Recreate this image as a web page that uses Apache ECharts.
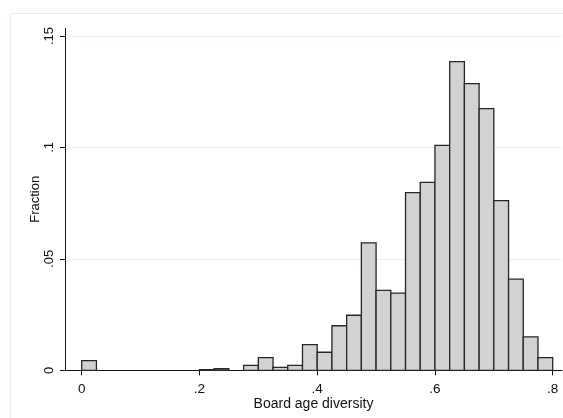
<!DOCTYPE html>
<html>
<head>
<meta charset="utf-8">
<script src="https://cdn.jsdelivr.net/npm/echarts@6/dist/echarts.min.js"></script>
<style>
html,body{margin:0;padding:0;background:#fff;}
#chart{width:563px;height:418px;}
</style>
</head>
<body>
<div id="chart"></div>
<script>
// Histogram bins (start of each bin) and fractions
const binStarts = [0, 0.2, 0.225, 0.275, 0.3, 0.325, 0.35, 0.375, 0.4, 0.425, 0.45, 0.475, 0.5, 0.525, 0.55, 0.575, 0.6, 0.625, 0.65, 0.675, 0.7, 0.725, 0.75, 0.775];
const fractions = [0.0043, 0.0003, 0.0007, 0.0022, 0.0057, 0.0013, 0.0022, 0.0115, 0.0081, 0.0200, 0.0247, 0.0572, 0.0359, 0.0346, 0.0797, 0.0843, 0.1009, 0.1385, 0.1286, 0.1174, 0.0761, 0.0409, 0.0150, 0.0057];
const binWidth = 0.025;
const xTicks = [0, 0.2, 0.4, 0.6, 0.8];
const yTicks = [0, 0.05, 0.1, 0.15];
const xTitle = 'Board age diversity';
const yTitle = 'Fraction';

const data = binStarts.map((s, i) => [s, s + binWidth, fractions[i]]);
const fmt = v => (v === 0 ? '0' : String(+v.toFixed(3)).replace(/^0/, ''));
const FONT = 'Liberation Sans, Arial, sans-serif';

const chart = echarts.init(document.getElementById('chart'), null, {renderer: 'canvas'});
chart.setOption({
  animation: false,
  backgroundColor: '#fff',
  graphic: [{
    type: 'rect', silent: true, z: -10,
    shape: {x: 10.5, y: 13.5, width: 560, height: 410},
    style: {fill: 'none', stroke: '#e6eef0', lineWidth: 1}
  }],
  grid: {left: 65, right: 1, top: 28.3, bottom: 47.7, containLabel: false},
  xAxis: {
    type: 'value', min: -0.0284, max: 0.8158,
    name: xTitle, nameLocation: 'middle', nameGap: 27, nameMoveOverlap: false,
    nameTextStyle: {fontFamily: FONT, fontSize: 14, color: '#111'},
    axisLine: {show: true, onZero: false, lineStyle: {color: '#111', width: 1}},
    axisTick: {show: true, customValues: xTicks, length: 5, inside: false, lineStyle: {color: '#111'}},
    axisLabel: {customValues: xTicks, formatter: fmt, margin: 12, fontFamily: FONT, fontSize: 13.5, color: '#111'},
    splitLine: {show: false}
  },
  yAxis: {
    type: 'value', min: 0, max: 0.15345,
    name: yTitle, nameLocation: 'middle', nameGap: 23, nameRotate: 90, nameMoveOverlap: false,
    nameTextStyle: {fontFamily: FONT, fontSize: 13, color: '#111'},
    axisLine: {show: true, onZero: false, lineStyle: {color: '#111', width: 1}},
    axisTick: {show: true, customValues: yTicks, length: 5, lineStyle: {color: '#111'}},
    axisLabel: {customValues: yTicks, formatter: fmt, rotate: 90, margin: 9, fontFamily: FONT, fontSize: 13, color: '#111'},
    splitLine: {show: true, lineStyle: {color: '#e8f0f2', width: 1}}
  },
  series: [{
    type: 'custom',
    data: data,
    encode: {x: [0, 1], y: 2},
    renderItem: function (params, api) {
      const x0 = api.value(0), x1 = api.value(1), y = api.value(2);
      const p0 = api.coord([x0, y]);
      const p1 = api.coord([x1, 0]);
      return {
        type: 'rect',
        shape: {x: p0[0], y: p0[1], width: p1[0] - p0[0], height: p1[1] - p0[1]},
        style: {fill: '#d2d2d2', stroke: '#262626', lineWidth: 1.3}
      };
    }
  }]
});
</script>
</body>
</html>
